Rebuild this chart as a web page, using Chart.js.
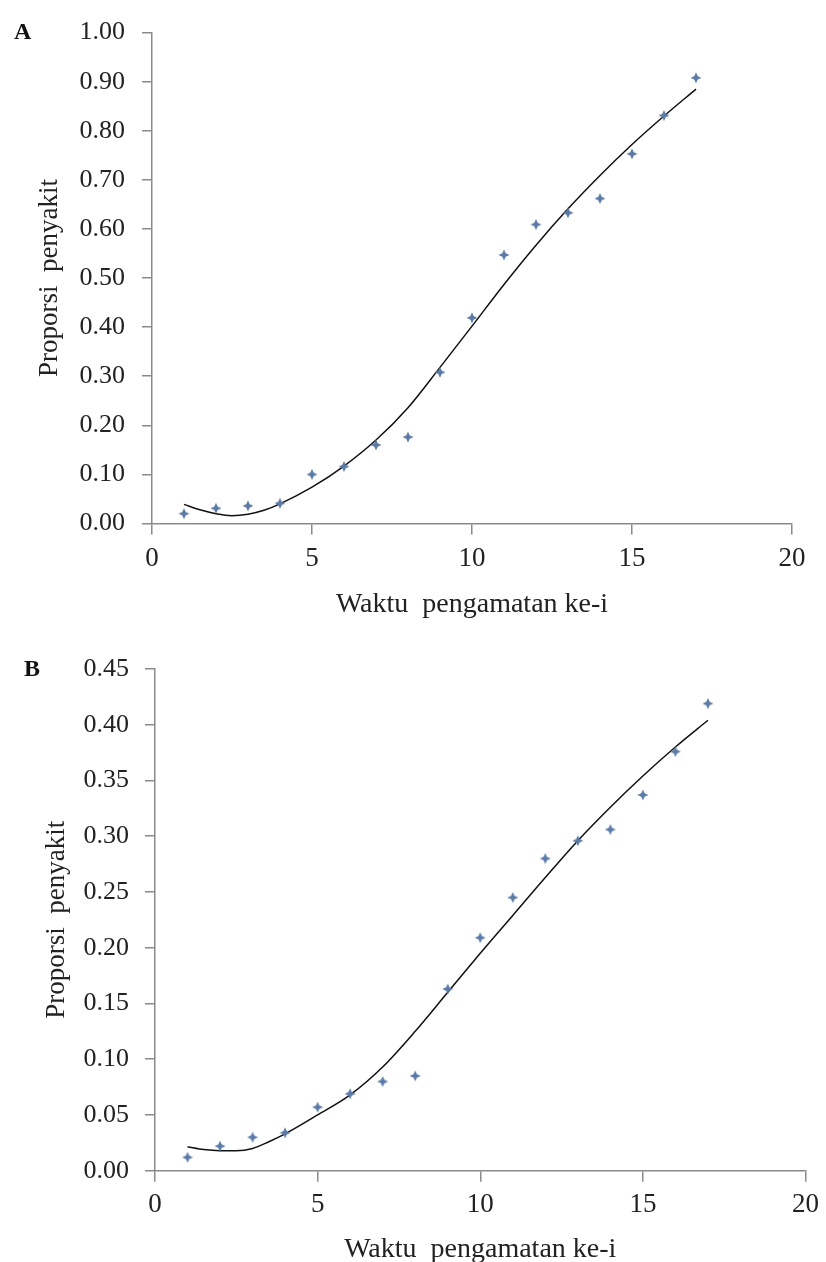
<!DOCTYPE html>
<html>
<head>
<meta charset="utf-8">
<script src="https://cdn.jsdelivr.net/npm/chart.js@4.4.1/dist/chart.umd.min.js"></script>
<style>
	html, body {margin: 0; padding: 0; background: #fff; overflow: hidden;}
	#wrap {position: relative; width: 826px; height: 1262px;}
	canvas {position: absolute; left: 0;}
	#chartA {top: 0;}
	#chartB {top: 625px;}
	.panel {position: absolute; font-family: "Liberation Serif", serif; font-weight: bold; font-size: 24px; color: #111;}
</style>
</head>
<body>
<div id="wrap">
	<canvas id="chartA" width="826" height="625"></canvas>
	<canvas id="chartB" width="826" height="645"></canvas>
	<div class="panel" style="left:14px; top:18px;">A</div>
	<div class="panel" style="left:24px; top:655px;">B</div>
</div>
<script>
// observation times
var obsX = [1, 2, 3, 4, 5, 6, 7, 8, 9, 10, 11, 12, 13, 14, 15, 16, 17];
// observed disease proportion, panel A and B
var obsA = [0.020, 0.031, 0.036, 0.041, 0.100, 0.116, 0.160, 0.176, 0.308, 0.419, 0.547, 0.609, 0.633, 0.662, 0.753, 0.831, 0.908];
var obsB = [0.012, 0.022, 0.030, 0.034, 0.057, 0.069, 0.080, 0.085, 0.163, 0.209, 0.245, 0.280, 0.296, 0.306, 0.337, 0.376, 0.419];
// fitted curve
var fitX = [1, 1.5, 2, 2.5, 3, 3.5, 4, 5, 6, 7, 8, 9, 10, 11, 12, 13, 14, 15, 16, 17];
var fitA = [0.039, 0.028, 0.020, 0.016, 0.019, 0.027, 0.040, 0.074, 0.117, 0.170, 0.236, 0.318, 0.402, 0.487, 0.567, 0.641, 0.709, 0.772, 0.830, 0.885];
var fitB = [0.0215, 0.019, 0.018, 0.018, 0.020, 0.026, 0.033, 0.050, 0.068, 0.093, 0.125, 0.160, 0.195, 0.229, 0.263, 0.296, 0.326, 0.354, 0.380, 0.404];

var xTicks = [0, 5, 10, 15, 20];
var xTitle = "Waktu  pengamatan ke-i";
var yTitle = "Proporsi  penyakit";

var serif = "'Liberation Serif', 'Times New Roman', serif";
var axisGray = "#8a8a8a";

//4-point star marker like the excel one
function makeStar(){
	var c = document.createElement("canvas");
	c.width = 12; c.height = 12;
	var g = c.getContext("2d");
	var m = 6, r = 5.5, q = 1.7;
	g.fillStyle = "#5b7aa6";
	g.beginPath();
	g.moveTo(m, m - r);
	g.lineTo(m + q, m - q);
	g.lineTo(m + r, m);
	g.lineTo(m + q, m + q);
	g.lineTo(m, m + r);
	g.lineTo(m - q, m + q);
	g.lineTo(m - r, m);
	g.lineTo(m - q, m - q);
	g.closePath();
	g.fill();
	return c;
}
var star = makeStar();

function toPoints(xs, ys){
	var out = [];
	for (var i = 0; i < xs.length; i++){
		out.push({x: xs[i], y: ys[i]});
	}
	return out;
}

function buildChart(id, cfg){
	var ctx = document.getElementById(id).getContext("2d");
	return new Chart(ctx, {
		type: "scatter",
		data: {
			datasets: [
				{
					data: toPoints(fitX, cfg.fit),
					showLine: true,
					borderColor: "#111",
					borderWidth: 1.5,
					pointRadius: 0,
					cubicInterpolationMode: "monotone",
					order: 2
				},
				{
					data: toPoints(obsX, cfg.obs),
					pointStyle: star,
					pointRadius: 6,
					order: 1
				}
			]
		},
		options: {
			responsive: false,
			animation: false,
			devicePixelRatio: 1,
			layout: {padding: {left: 0, top: cfg.top, right: cfg.right, bottom: cfg.bottom}},
			plugins: {legend: {display: false}, tooltip: {enabled: false}},
			scales: {
				x: {
					type: "linear",
					min: 0, max: 20,
					afterBuildTicks: function(scale){
						scale.ticks = xTicks.map(function(v){ return {value: v}; });
					},
					afterFit: function(scale){ scale.height = cfg.xH; },
					border: {color: axisGray, width: 1.5},
					grid: {drawOnChartArea: false, drawTicks: true, tickLength: 11, color: axisGray, lineWidth: 1.5},
					ticks: {
						color: "#222", padding: cfg.xPad, maxRotation: 0,
						font: {family: serif, size: 27},
						callback: function(v){ return v; }
					},
					title: {
						display: true, text: xTitle, color: "#222",
						font: {family: serif, size: 28},
						padding: {top: 0, bottom: 4}
					}
				},
				y: {
					type: "linear",
					min: 0, max: cfg.yMax,
					afterFit: function(scale){ scale.width = cfg.yW; },
					border: {color: axisGray, width: 1.5},
					grid: {drawOnChartArea: false, drawTicks: true, tickLength: 10, color: axisGray, lineWidth: 1.5},
					ticks: {
						color: "#222", padding: cfg.yPad, stepSize: cfg.yStep,
						font: {family: serif, size: 26},
						callback: function(v){ return v.toFixed(2); }
					},
					title: {
						display: true, text: yTitle, color: "#222",
						font: {family: serif, size: 27},
						padding: {top: cfg.yTitlePad, bottom: 0}
					}
				}
			}
		}
	});
}

buildChart("chartA", {
	obs: obsA, fit: fitA, yMax: 1.0, yStep: 0.1,
	top: 21, right: 34, bottom: 0,
	yW: 152, xH: 101.5, xPad: 8, yPad: 17, yTitlePad: 34
});

buildChart("chartB", {
	obs: obsB, fit: fitB, yMax: 0.45, yStep: 0.05,
	top: 44, right: 19, bottom: 0,
	yW: 155, xH: 99.3, xPad: 7, yPad: 16, yTitlePad: 41
});
</script>
</body>
</html>
